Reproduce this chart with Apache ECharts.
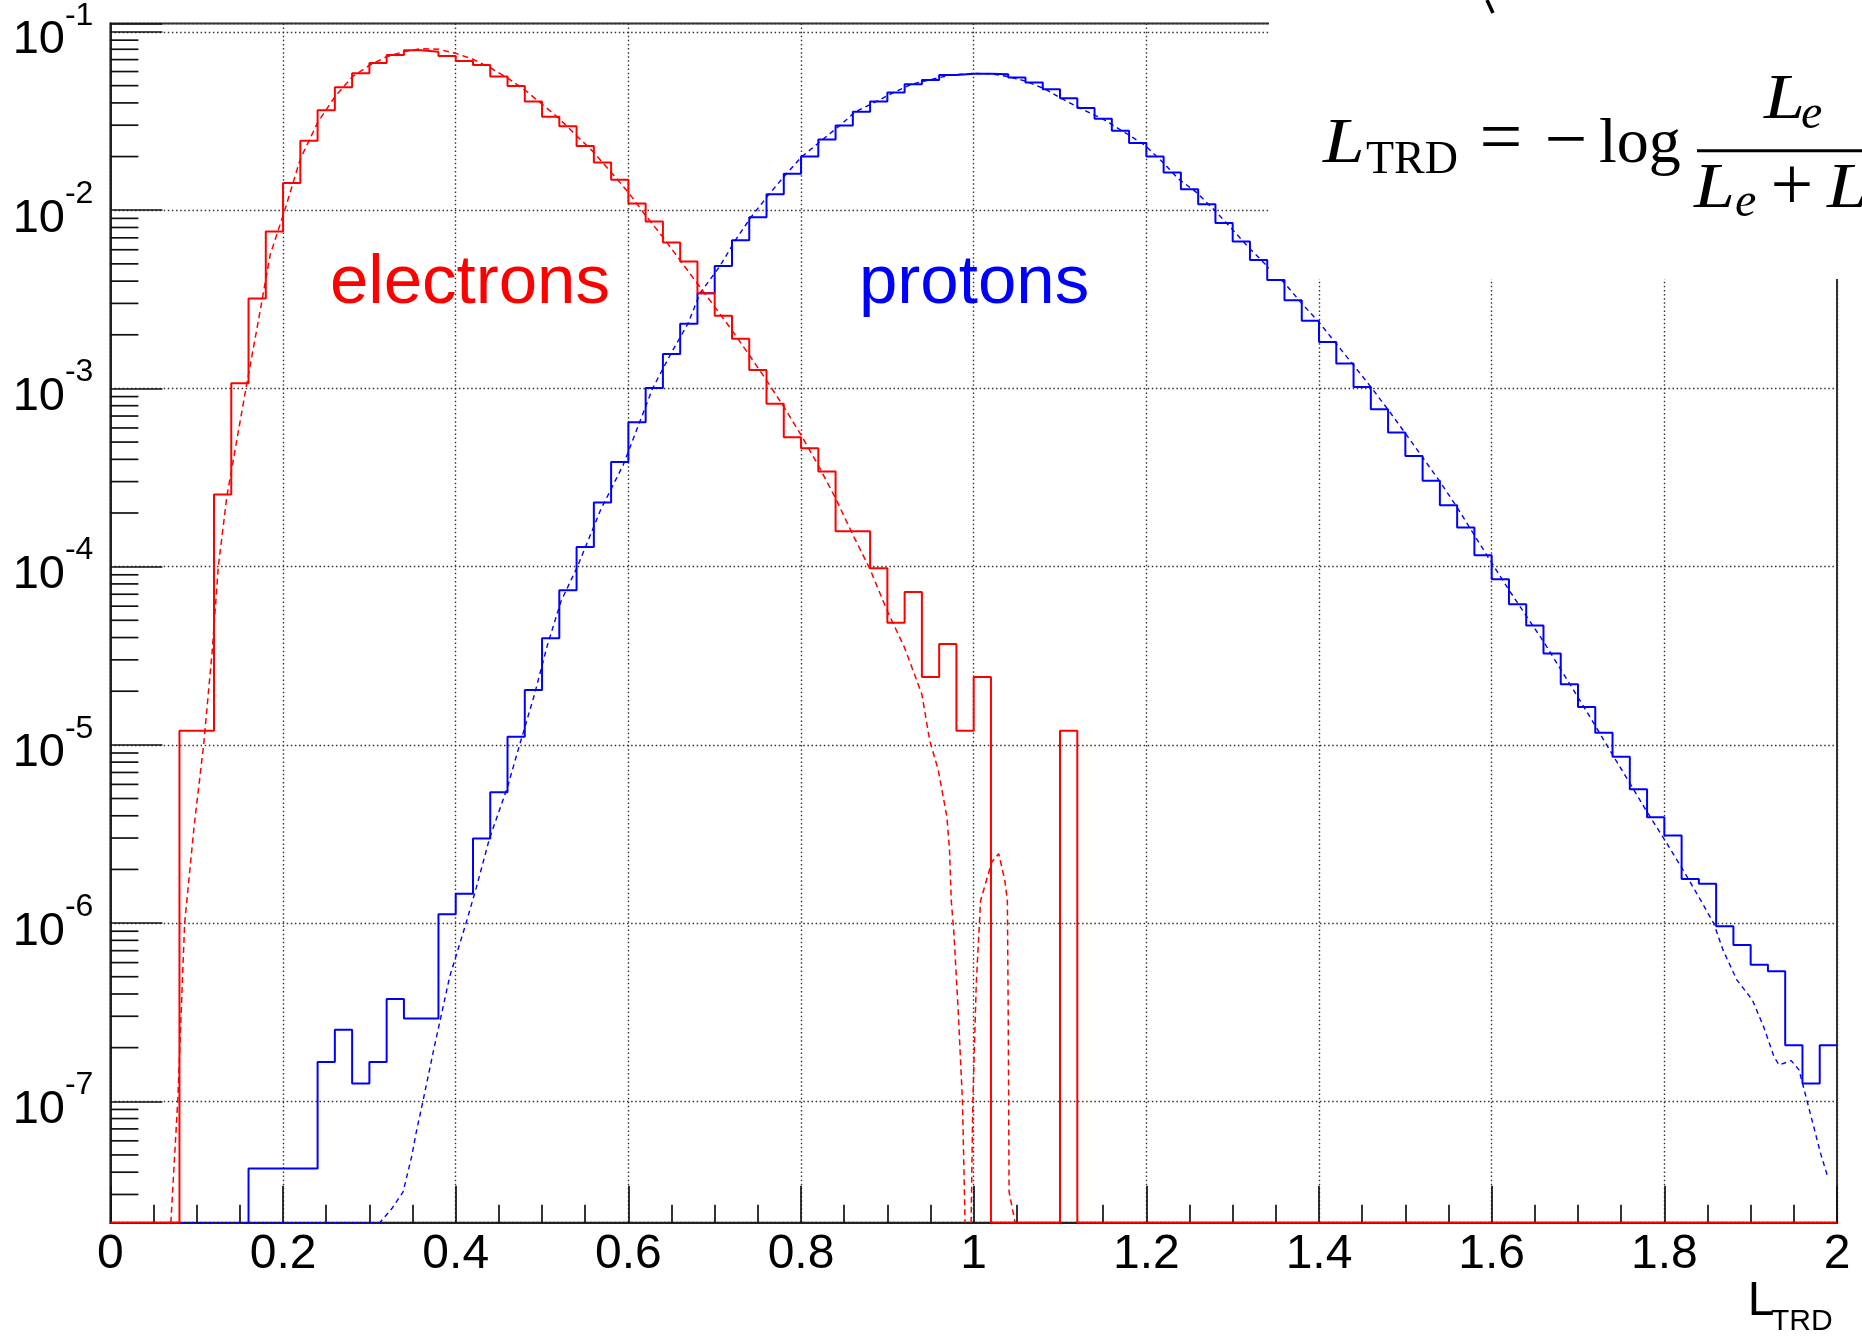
<!DOCTYPE html>
<html><head><meta charset="utf-8">
<script src="https://cdn.jsdelivr.net/npm/echarts@6/dist/echarts.min.js"></script>
<style>html,body{margin:0;padding:0;background:#fff}#c{width:1862px;height:1336px}</style>
</head><body><div id="c"></div>
<script>
// ---- axes ----
const X_MIN = 0, X_MAX = 2, X_TICK_STEP = 0.2;
const Y_MIN = 2.083e-8, Y_MAX = 0.1117;
const Y_MINOR_MULTS = [2, 3, 4, 5, 6, 7, 8, 9];
const Y_MINOR_DECADES = [1e-8, 1e-7, 1e-6, 1e-5, 1e-4, 1e-3, 1e-2, 1e-1];
// ---- histogram binning: 100 bins of width 0.02 starting at 0 ----
const BIN_START = 0, BIN_WIDTH = 0.02;

// ---- electrons histogram (normalised entries per bin) ----
const electrons = [
  0, 0, 0, 0, 1.2e-5, 1.2e-5, 2.54e-4, 1.07e-3, 3.2e-3, 7.6e-3,
  1.42e-2, 2.45e-2, 3.64e-2, 4.9e-2, 5.87e-2, 6.71e-2, 7.43e-2, 7.9e-2, 7.75e-2, 7.33e-2,
  6.88e-2, 6.53e-2, 5.62e-2, 4.98e-2, 4.07e-2, 3.34e-2, 2.96e-2, 2.29e-2, 1.85e-2, 1.48e-2,
  1.09e-2, 8.63e-3, 6.59e-3, 5.16e-3, 3.42e-3, 2.56e-3, 1.90e-3, 1.27e-3, 8.21e-4, 5.32e-4,
  4.62e-4, 3.42e-4, 1.58e-4, 1.58e-4, 9.8e-5, 4.84e-5, 7.2e-5, 2.4e-5, 3.68e-5, 1.2e-5,
  2.4e-5, 0, 0, 0, 0, 1.2e-5, 0, 0, 0, 0,
  0, 0, 0, 0, 0, 0, 0, 0, 0, 0,
  0, 0, 0, 0, 0, 0, 0, 0, 0, 0,
  0, 0, 0, 0, 0, 0, 0, 0, 0, 0,
  0, 0, 0, 0, 0, 0, 0, 0, 0, 0
];
// ---- protons histogram ----
const protons = [
  0, 0, 0, 0, 0, 0, 0, 0, 4.2e-8, 4.2e-8,
  4.2e-8, 4.2e-8, 1.66e-7, 2.52e-7, 1.26e-7, 1.66e-7, 3.75e-7, 2.91e-7, 2.91e-7, 1.12e-6,
  1.46e-6, 2.98e-6, 5.42e-6, 1.11e-5, 2.03e-5, 3.97e-5, 7.38e-5, 1.29e-4, 2.29e-4, 3.86e-4,
  6.46e-4, 1.005e-3, 1.56e-3, 2.31e-3, 3.42e-3, 4.86e-3, 6.79e-3, 9.14e-3, 1.23e-2, 1.60e-2,
  2.00e-2, 2.49e-2, 2.99e-2, 3.57e-2, 4.07e-2, 4.57e-2, 5.09e-2, 5.38e-2, 5.74e-2, 5.84e-2,
  5.84e-2, 5.80e-2, 5.55e-2, 5.20e-2, 4.78e-2, 4.25e-2, 3.75e-2, 3.26e-2, 2.79e-2, 2.38e-2,
  2.00e-2, 1.63e-2, 1.31e-2, 1.08e-2, 8.49e-3, 6.68e-3, 5.25e-3, 4.06e-3, 3.12e-3, 2.40e-3,
  1.82e-3, 1.38e-3, 1.02e-3, 7.63e-4, 5.65e-4, 4.18e-4, 3.03e-4, 2.21e-4, 1.66e-4, 1.16e-4,
  8.5e-5, 6.16e-5, 4.68e-5, 3.26e-5, 2.19e-5, 1.63e-5, 1.17e-5, 8.58e-6, 5.63e-6, 3.93e-6,
  3.10e-6, 1.77e-6, 1.66e-6, 9.6e-7, 7.54e-7, 5.83e-7, 5.37e-7, 2.06e-7, 1.26e-7, 2.06e-7
];

// ---- fitted curves (dashed) ----
const electronFitX = [0.070, 0.078, 0.086, 0.097, 0.108, 0.118, 0.125, 0.135, 0.144, 0.157,
  0.170, 0.185, 0.202, 0.220, 0.240, 0.260, 0.280, 0.300, 0.320, 0.340,
  0.36, 0.38, 0.40, 0.42, 0.44, 0.46, 0.48, 0.50, 0.52, 0.54, 0.56, 0.58, 0.60,
  0.62, 0.64, 0.66, 0.68, 0.70, 0.72, 0.74, 0.76, 0.78, 0.80, 0.82, 0.84, 0.86, 0.88, 0.90, 0.92, 0.94,
  0.949, 0.959, 0.969, 0.972, 0.974, 0.977, 0.982, 0.987, 0.990, 0.993,
  0.997, 0.999, 1.003, 1.008, 1.021, 1.029, 1.036, 1.039, 1.040, 1.041, 1.048];
const electronFitY = [0, 1e-7, 1e-6, 3.5e-6, 1e-5, 3.4e-5, 1e-4, 2.5e-4, 4.4e-4, 1e-3,
  2.2e-3, 5.6e-3, 1e-2, 1.94e-2, 3.1e-2, 4.33e-2, 5.6e-2, 6.5e-2, 7.27e-2, 7.76e-2,
  8.06e-2, 8.0e-2, 7.59e-2, 7.03e-2, 6.3e-2, 5.53e-2, 4.73e-2, 3.94e-2, 3.26e-2, 2.62e-2, 2.11e-2, 1.63e-2, 1.26e-2,
  9.33e-3, 7.06e-3, 5.23e-3, 3.87e-3, 2.87e-3, 2.12e-3, 1.54e-3, 1.11e-3, 7.9e-4, 5.48e-4, 3.7e-4, 2.42e-4, 1.51e-4, 9.65e-5, 5.63e-5, 3.5e-5, 1.92e-5,
  1.06e-5, 7.2e-6, 3.93e-6, 2.56e-6, 1.34e-6, 8.9e-7, 3.25e-7, 1e-7, 0, null,
  0, 1e-7, 4.6e-7, 1.34e-6, 2.2e-6, 2.45e-6, 1.74e-6, 1.34e-6, 3e-7, 3.1e-8, 0];

const protonFitX = [0.050, 0.312, 0.326, 0.339, 0.349, 0.354, 0.362, 0.375, 0.383, 0.393,
  0.412, 0.424, 0.439, 0.460, 0.474, 0.491, 0.506, 0.522, 0.541, 0.553,
  0.568, 0.594, 0.613, 0.628, 0.649, 0.669, 0.683, 0.706, 0.724, 0.742,
  0.763, 0.783, 0.801, 0.825, 0.845, 0.863, 0.887, 0.907, 0.928, 0.948,
  0.974, 1.000, 1.021, 1.040, 1.059, 1.083, 1.103, 1.124, 1.150, 1.181,
  1.199, 1.219, 1.237, 1.258, 1.279, 1.299, 1.320, 1.341, 1.360, 1.380,
  1.40, 1.42, 1.44, 1.46, 1.48, 1.50, 1.52, 1.54, 1.56, 1.58, 1.60, 1.62, 1.64, 1.66, 1.68, 1.70,
  1.72, 1.74, 1.76, 1.78, 1.80, 1.82, 1.84,
  1.857, 1.868, 1.884, 1.902, 1.915, 1.927, 1.933, 1.947, 1.956, 1.970, 1.981, 1.989];
const protonFitY = [0, 0, 2.5e-8, 3.1e-8, 4.9e-8, 6.6e-8, 1e-7, 2.0e-7, 3.0e-7, 5.0e-7,
  1e-6, 1.59e-6, 2.97e-6, 5.8e-6, 1e-5, 1.9e-5, 3.6e-5, 6.4e-5, 1e-4, 1.39e-4,
  2.09e-4, 3.72e-4, 6.46e-4, 1e-3, 1.56e-3, 2.31e-3, 3.42e-3, 4.86e-3, 6.79e-3, 9.14e-3,
  1.23e-2, 1.6e-2, 2.0e-2, 2.49e-2, 2.99e-2, 3.57e-2, 4.07e-2, 4.57e-2, 5.09e-2, 5.38e-2,
  5.74e-2, 5.86e-2, 5.82e-2, 5.62e-2, 5.32e-2, 4.78e-2, 4.2e-2, 3.72e-2, 3.24e-2, 2.62e-2,
  2.3e-2, 1.86e-2, 1.5e-2, 1.26e-2, 1.0e-2, 7.86e-3, 6.07e-3, 4.8e-3, 3.9e-3, 3.0e-3,
  2.35e-3, 1.78e-3, 1.35e-3, 1.02e-3, 7.6e-4, 5.6e-4, 4.1e-4, 3.0e-4, 2.15e-4, 1.5e-4, 1.05e-4, 7.4e-5, 5.3e-5, 3.8e-5, 2.65e-5, 1.85e-5,
  1.28e-5, 8.8e-6, 6.1e-6, 4.2e-6, 2.95e-6, 2.05e-6, 1.4e-6,
  1.0e-6, 7.05e-7, 4.8e-7, 3.7e-7, 2.62e-7, 1.78e-7, 1.6e-7, 1.69e-7, 1.5e-7, 8.2e-8, 5.1e-8, 3.8e-8];

// ---- build step outlines from bins (empty bins drawn on the frame floor, like ROOT) ----
function histSteps(vals, drawEmptyOnFloor) {
  const out = [];
  let prevEmpty = true;
  vals.forEach((v, i) => {
    const lo = +(BIN_START + i * BIN_WIDTH).toFixed(4);
    const hi = +(BIN_START + (i + 1) * BIN_WIDTH).toFixed(4);
    if (v > 0) {
      if (!drawEmptyOnFloor && prevEmpty && i > 0) out.push([lo, Y_MIN]);
      out.push([lo, v], [hi, v]);
      prevEmpty = false;
    } else if (drawEmptyOnFloor) {
      out.push([lo, Y_MIN], [hi, Y_MIN]);
      prevEmpty = true;
    } else {
      out.push([lo, null]);
      prevEmpty = true;
    }
  });
  return out;
}
function fitPoints(xs, ys) {
  return xs.map((x, i) => [x, ys[i] === null ? null : (ys[i] > 0 ? ys[i] : Y_MIN)]);
}

const SANS = '"Liberation Sans", Arial, sans-serif';
const SERIF = '"Liberation Serif", "Times New Roman", serif';
const RED = '#ff0000', BLUE = '#0000ff';
const GRID_LINE = { color: '#333', width: 1.4, type: [1.5, 2.6] };

const chart = echarts.init(document.getElementById('c'), null, { renderer: 'canvas' });
chart.setOption({
  animation: false,
  backgroundColor: '#fff',
  grid: { left: 110.4, right: 25, top: 20.7, bottom: 113.3, show: true, borderColor: '#333', borderWidth: 2, backgroundColor: 'transparent' },
  xAxis: {
    type: 'value', min: X_MIN, max: X_MAX, interval: X_TICK_STEP,
    axisLine: { show: true, onZero: false, lineStyle: { color: '#222', width: 2 } },
    axisTick: { show: true, inside: true, length: 37, lineStyle: { color: '#111', width: 1.7 } },
    minorTick: { show: true, splitNumber: 4, length: 18, lineStyle: { color: '#111', width: 1.7 } },
    splitLine: { show: true, lineStyle: GRID_LINE },
    axisLabel: { margin: 8, fontSize: 48, fontFamily: SANS, color: '#000',
      formatter: v => String(+(+v).toFixed(1)) }
  },
  yAxis: {
    type: 'log', min: Y_MIN, max: Y_MAX, logBase: 10,
    axisLine: { show: true, lineStyle: { color: '#222', width: 2 } },
    axisTick: { show: true, inside: true, length: 52, lineStyle: { color: '#111', width: 1.7 } },
    splitLine: { show: true, lineStyle: GRID_LINE },
    axisLabel: {
      margin: 17, padding: [0, 0, 0, 0],
      formatter: v => {
        const e = Math.log10(v), r = Math.round(e);
        if (Math.abs(e - r) > 1e-6) return '';
        return '{b|10}{s|' + r + '}';
      },
      rich: {
        b: { fontSize: 47, fontFamily: SANS, color: '#000', lineHeight: 64, verticalAlign: 'bottom' },
        s: { fontSize: 32, fontFamily: SANS, color: '#000', lineHeight: 32, verticalAlign: 'top' }
      }
    }
  },
  series: [
    { name: 'protons', type: 'line', data: histSteps(protons, false), symbol: 'none', connectNulls: false,
      lineStyle: { color: BLUE, width: 2 }, z: 3 },
    { name: 'protons fit', type: 'line', data: fitPoints(protonFitX, protonFitY), symbol: 'none', connectNulls: false,
      lineStyle: { color: BLUE, width: 1.4, type: [5, 4] }, z: 4 },
    { name: 'electrons', type: 'line', data: histSteps(electrons, true), symbol: 'none', connectNulls: false,
      lineStyle: { color: RED, width: 2 }, z: 5 },
    { name: 'electrons fit', type: 'line', data: fitPoints(electronFitX, electronFitY), symbol: 'none', connectNulls: false,
      lineStyle: { color: RED, width: 1.5, type: [6, 4] }, z: 6 }
  ]
});

// ---- minor ticks of the log axis at 2..9 x 10^n, placed through the axis scale ----
const gx0 = chart.convertToPixel({ xAxisIndex: 0 }, X_MIN);
const graphics = [];
Y_MINOR_DECADES.forEach(d => {
  Y_MINOR_MULTS.forEach(m => {
    const v = m * d;
    if (v > Y_MIN && v < Y_MAX) {
      const py = chart.convertToPixel({ yAxisIndex: 0 }, v);
      graphics.push({ type: 'line', shape: { x1: gx0, y1: py, x2: gx0 + 28, y2: py },
        style: { stroke: '#111', lineWidth: 1.7 }, z: 10, silent: true });
    }
  });
});

function txt(text, x, y, font, fill, align, sx) {
  return { type: 'text', x: x, y: y, scaleX: sx || 1, z: 120, silent: true,
    style: { text, x: 0, y: 0, font, fill: fill || '#000', textAlign: align || 'left', align: align || 'left',
      textVerticalAlign: 'middle', verticalAlign: 'middle' } };
}

// labels inside the plot
graphics.push(txt('electrons', 330, 284, '69px ' + SANS, RED));
graphics.push(txt('protons', 859, 284, '69px ' + SANS, BLUE));
// axis title L_TRD
graphics.push(txt('L', 1747.7, 1301.4, '48px ' + SANS, '#000'));
graphics.push(txt('TRD', 1771, 1321.3, '30px ' + SANS, '#000'));

// pasted formula panel covering the top-right corner
graphics.push({ type: 'rect', shape: { x: 1269, y: 0, width: 593, height: 279 }, style: { fill: '#fff' }, z: 110, silent: true });
graphics.push({ type: 'line', shape: { x1: 1487, y1: 0, x2: 1493, y2: 13 }, style: { stroke: '#000', lineWidth: 3.5 }, z: 120, silent: true });
graphics.push(txt('L', 1323, 145.1, 'italic 64px ' + SERIF, '#000', 'left', 1.17));
graphics.push(txt('TRD', 1366, 161.2, '46px ' + SERIF));
graphics.push(txt('=', 1501, 142.4, '76px ' + SERIF, '#000', 'center'));
graphics.push(txt('\u2212', 1566, 144.1, '76px ' + SERIF, '#000', 'center'));
graphics.push(txt('log', 1599, 145.1, '64px ' + SERIF));
graphics.push({ type: 'rect', shape: { x: 1697, y: 149.2, width: 170, height: 3 }, style: { fill: '#000' }, z: 120, silent: true });
graphics.push(txt('L', 1764, 101.1, 'italic 64px ' + SERIF, '#000', 'left', 1.15));
graphics.push(txt('e', 1801, 115.5, 'italic 48px ' + SERIF));
graphics.push(txt('L', 1694, 190.1, 'italic 64px ' + SERIF, '#000', 'left', 1.15));
graphics.push(txt('e', 1735, 203.8, 'italic 48px ' + SERIF));
graphics.push(txt('+', 1792, 189.4, '76px ' + SERIF, '#000', 'center'));
graphics.push(txt('L', 1827, 190.1, 'italic 64px ' + SERIF, '#000', 'left', 1.15));

chart.setOption({ graphic: graphics });
</script></body></html>
